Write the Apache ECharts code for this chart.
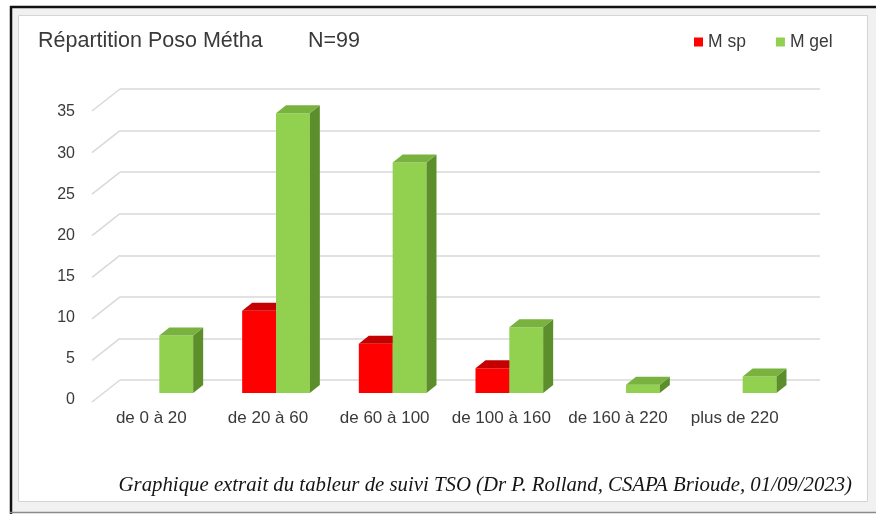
<!DOCTYPE html>
<html>
<head>
<meta charset="utf-8">
<script src="https://cdn.jsdelivr.net/npm/echarts@6/dist/echarts.min.js"></script>
<style>
  html, body { margin: 0; padding: 0; background: #ffffff; }
  #chart { width: 876px; height: 514px; }
</style>
</head>
<body>
<div id="chart"></div>
<script>
// Dose bands and patient counts per methadone form
const categories = ['de 0 à 20', 'de 20 à 60', 'de 60 à 100', 'de 100 à 160', 'de 160 à 220', 'plus de 220'];
const seriesNames = ['M sp', 'M gel'];
const mSp  = [null, 10, 6, 3, null, null];
const mGel = [7, 34, 28, 8, 1, 2];
const yTicks = [0, 5, 10, 15, 20, 25, 30, 35];
const titleText = 'Répartition Poso Métha';
const countText = 'N=99';
const sourceText = 'Graphique extrait du tableur de suivi TSO (Dr P. Rolland, CSAPA Brioude, 01/09/2023)';

const faceColors = {
  'M sp':  { front: '#ff0000', top: '#c40000', side: '#a00000', legend: '#ff0000' },
  'M gel': { front: '#92d050', top: '#79b23f', side: '#5c8f2c', legend: '#92d050' }
};

const FONT = '"Liberation Sans", Arial, sans-serif';
const TEXT_COLOR = '#3a3a3a';
const GRID_COLOR = '#d9d9d9';

// depth of the box faces drawn for each bar
const BAR_DEPTH = [10, -8];
// depth of the floor, from the front labels plane to the back wall
const WALL_DEPTH = [28, -22];

function bar3d(slot, colors) {
  return function (params, api) {
    const v = api.value(1);
    if (v == null || isNaN(v)) return;
    const idx = api.value(0);
    const base = api.coord([idx, 0]);
    const top = api.coord([idx, v]);
    const band = api.size([1, 0])[0];
    const w = band * 0.29;
    const x0 = base[0] + (slot === 0 ? -w : 0);
    const x1 = x0 + w;
    const yb = base[1], yt = top[1];
    const dx = BAR_DEPTH[0], dy = BAR_DEPTH[1];
    return {
      type: 'group',
      children: [
        { type: 'polygon', shape: { points: [[x0, yb], [x1, yb], [x1, yt], [x0, yt]] },
          style: { fill: colors.front } },
        { type: 'polygon', shape: { points: [[x1, yb], [x1 + dx, yb + dy], [x1 + dx, yt + dy], [x1, yt]] },
          style: { fill: colors.side } },
        { type: 'polygon', shape: { points: [[x0, yt], [x0 + dx, yt + dy], [x1 + dx, yt + dy], [x1, yt]] },
          style: { fill: colors.top } }
      ]
    };
  };
}

// slanted lines joining the tick labels to the back-wall gridlines
function wallDiagonal(params, api) {
  const cs = params.coordSys;
  const p = api.coord([0, api.value(1)]);
  const bx = cs.x, by = p[1];
  return {
    type: 'line',
    shape: { x1: bx - WALL_DEPTH[0], y1: by - WALL_DEPTH[1], x2: bx, y2: by },
    style: { stroke: GRID_COLOR, lineWidth: 1.5 }
  };
}

const valueAxis = (show) => ({
  type: 'value', min: 0, max: 35, interval: 5,
  axisLine: { show: false }, axisTick: { show: false },
  axisLabel: show === 'labels'
    ? { show: true, color: TEXT_COLOR, fontSize: 16, fontFamily: FONT, margin: 18 }
    : { show: false },
  splitLine: show === 'grid'
    ? { show: true, lineStyle: { color: GRID_COLOR, width: 1.5 } }
    : { show: false }
});

const catAxis = (gridIndex, labels) => ({
  type: 'category', gridIndex, data: categories, boundaryGap: true,
  axisLine: { show: false }, axisTick: { show: false },
  axisLabel: labels
    ? { show: true, color: TEXT_COLOR, fontSize: 17, fontFamily: FONT, margin: 10, interval: 0 }
    : { show: false },
  splitLine: { show: false }
});

const chart = echarts.init(document.getElementById('chart'), null, { renderer: 'canvas' });

chart.setOption({
  animation: false,
  backgroundColor: '#ffffff',
  title: [
    { text: titleText, left: 38, top: 30, padding: 0,
      textStyle: { fontSize: 21.5, fontWeight: 'normal', color: TEXT_COLOR, fontFamily: FONT } },
    { text: countText, left: 308, top: 30, padding: 0,
      textStyle: { fontSize: 21.5, fontWeight: 'normal', color: TEXT_COLOR, fontFamily: FONT } }
  ],
  legend: {
    data: seriesNames.map(n => ({ name: n, itemStyle: { color: faceColors[n].legend } })),
    icon: 'rect', itemWidth: 9, itemHeight: 9, itemGap: 30,
    left: 694, top: 33, padding: 0,
    textStyle: { fontSize: 17.5, color: TEXT_COLOR, fontFamily: FONT }
  },
  grid: [
    { left: 120, right: 56, top: 89, bottom: 134 },   // back wall
    { left: 101, right: 75, top: 105, bottom: 121 },  // bar fronts
    { left: 93,  right: 83, top: 112, bottom: 114 }   // front edge, axis labels
  ],
  xAxis: [catAxis(0, false), catAxis(1, false), catAxis(2, true)],
  yAxis: [
    Object.assign(valueAxis('grid'), { gridIndex: 0 }),
    Object.assign(valueAxis('none'), { gridIndex: 1 }),
    Object.assign(valueAxis('labels'), { gridIndex: 2 })
  ],
  graphic: [
    { type: 'rect', z: -100, silent: true,
      shape: { x: 10, y: 7, width: 880, height: 505 },
      style: { fill: '#f1f1f1' } },
    { type: 'line', z: -99, silent: true,
      shape: { x1: 10, y1: 7, x2: 880, y2: 7 }, style: { stroke: '#111111', lineWidth: 2.5 } },
    { type: 'line', z: -99, silent: true,
      shape: { x1: 11, y1: 6, x2: 11, y2: 514 }, style: { stroke: '#111111', lineWidth: 2.5 } },
    { type: 'line', z: -99, silent: true,
      shape: { x1: 10, y1: 512.5, x2: 880, y2: 512.5 }, style: { stroke: '#8a8a8a', lineWidth: 1.5 } },
    { type: 'rect', z: -98, silent: true,
      shape: { x: 18.5, y: 15.5, width: 849, height: 486 },
      style: { fill: '#ffffff', stroke: '#d4d4d4', lineWidth: 1 } },
    { type: 'text', x: 852, y: 486, silent: true,
      style: { text: sourceText, align: 'right', verticalAlign: 'middle',
               font: 'italic 20.8px "Liberation Serif", "Times New Roman", serif', fill: '#151515' } }
  ],
  series: [
    { type: 'custom', name: 'wall', xAxisIndex: 0, yAxisIndex: 0, silent: true,
      data: yTicks.map(v => [0, v]), renderItem: wallDiagonal, encode: { x: 0, y: 1 } },
    { type: 'custom', name: seriesNames[0], xAxisIndex: 1, yAxisIndex: 1,
      itemStyle: { color: faceColors['M sp'].legend },
      data: mSp.map((v, i) => [i, v == null ? '-' : v]),
      renderItem: bar3d(0, faceColors['M sp']), encode: { x: 0, y: 1 } },
    { type: 'custom', name: seriesNames[1], xAxisIndex: 1, yAxisIndex: 1,
      itemStyle: { color: faceColors['M gel'].legend },
      data: mGel.map((v, i) => [i, v]),
      renderItem: bar3d(1, faceColors['M gel']), encode: { x: 0, y: 1 } }
  ]
});
</script>
</body>
</html>
